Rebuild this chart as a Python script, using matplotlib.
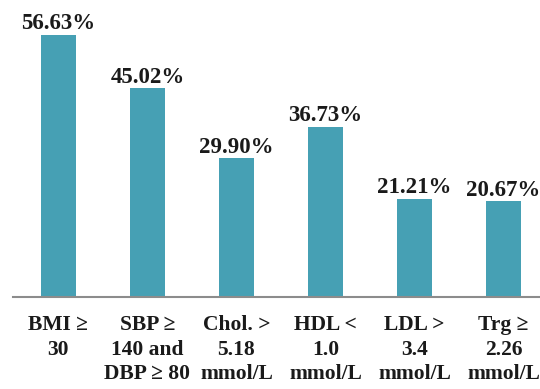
import matplotlib
matplotlib.use("Agg")
import matplotlib.pyplot as plt

categories = ["BMI \u2265\n30", "SBP \u2265\n140 and\nDBP \u2265 80", "Chol. >\n5.18\nmmol/L",
              "HDL <\n1.0\nmmol/L", "LDL >\n3.4\nmmol/L", "Trg \u2265\n2.26\nmmol/L"]
values = [56.63, 45.02, 29.90, 36.73, 21.21, 20.67]
labels = ["56.63%", "45.02%", "29.90%", "36.73%", "21.21%", "20.67%"]

plt.rcParams['font.family'] = ['Liberation Serif', 'DejaVu Serif']
plt.rcParams['font.weight'] = 'bold'

fig = plt.figure(figsize=(5.4, 3.89), dpi=100)
ax = fig.add_axes([13 / 540, 92 / 389, 527 / 540, 297 / 389])

x = list(range(len(values)))
bars = ax.bar(x, values, width=0.4, color='#46a0b4')

for b, lab in zip(bars, labels):
    ax.annotate(lab, (b.get_x() + b.get_width() / 2, b.get_height()),
                xytext=(0, 0.5), textcoords='offset points',
                ha='center', va='bottom', fontsize=16.5, fontweight='bold',
                color='#1a1a1a')

ax.set_xlim(-0.51, 5.41)
ax.set_ylim(0, 64.1)
ax.set_xticks(x)
ax.set_xticklabels(categories, fontsize=15.5, fontweight='bold', linespacing=1.3,
                   color='#1a1a1a')
ax.tick_params(axis='x', length=0, pad=13)
ax.set_yticks([])

for s in ['top', 'right', 'left']:
    ax.spines[s].set_visible(False)
ax.spines['bottom'].set_color('#8c8c8c')
ax.spines['bottom'].set_linewidth(1.5)

fig.savefig('out.png', dpi=100)
